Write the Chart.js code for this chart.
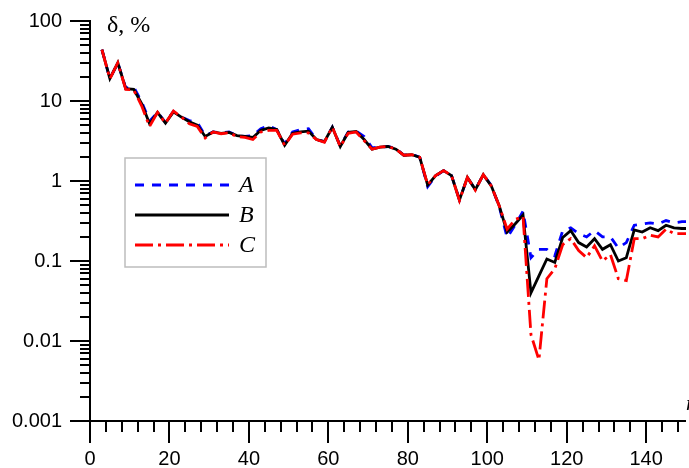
<!DOCTYPE html>
<html lang="en">
<head>
    <meta charset="UTF-8">
    <title>δ, %</title>
    <script src="https://cdn.jsdelivr.net/npm/chart.js"></script>
    <style>
        html, body { margin: 0; padding: 0; background: #fff; }
        canvas { display: block; }
    </style>
</head>
<body>
    <canvas id="deltaChart" width="689" height="468"></canvas>

    <script>
        // data
        const xValues = [3, 5, 7, 9, 11, 13, 15, 17, 19, 21,
            23, 25, 27, 29, 31, 33, 35, 37, 39, 41,
            43, 45, 47, 49, 51, 53, 55, 57, 59, 61,
            63, 65, 67, 69, 71, 73, 75, 77, 79, 81,
            83, 85, 87, 89, 91, 93, 95, 97, 99, 101,
            103, 105, 107, 109, 111, 113, 115, 117, 119, 121,
            123, 125, 127, 129, 131, 133, 135, 137, 139, 141,
            143, 145, 147, 149, 151];

        const seriesA = [44, 19, 30, 14.5, 15, 9.8, 5.6, 7.2, 5.4, 7.4,
            6.3, 5.7, 5.4, 3.7, 4.1, 4.0, 4.1, 3.7, 3.6, 3.7,
            4.5, 4.9, 4.4, 2.9, 4.1, 4.4, 4.5, 3.3, 3.1, 4.7,
            2.75, 4.1, 4.2, 3.6, 2.6, 2.65, 2.7, 2.55, 2.1, 2.15,
            1.98, 0.85, 1.15, 1.35, 1.17, 0.58, 1.1, 0.78, 1.2, 0.88,
            0.48, 0.197, 0.28, 0.42, 0.11, 0.14, 0.14, 0.116, 0.24, 0.26,
            0.22, 0.2, 0.24, 0.2, 0.2, 0.145, 0.17, 0.28, 0.29, 0.3,
            0.29, 0.32, 0.3, 0.31, 0.31];

        const seriesB = [44, 19, 30, 14.3, 14, 9.3, 5.2, 7.2, 5.3, 7.3,
            6.3, 5.5, 5.0, 3.6, 4.1, 3.95, 4.05, 3.7, 3.6, 3.5,
            4.3, 4.6, 4.4, 2.8, 3.95, 4.1, 4.2, 3.3, 3.1, 4.7,
            2.7, 4.06, 4.15, 3.3, 2.5, 2.65, 2.7, 2.5, 2.1, 2.13,
            1.98, 0.89, 1.17, 1.35, 1.17, 0.58, 1.11, 0.78, 1.2, 0.87,
            0.49, 0.23, 0.29, 0.376, 0.04, 0.065, 0.106, 0.096, 0.197, 0.24,
            0.17, 0.15, 0.19, 0.14, 0.16, 0.1, 0.11, 0.245, 0.23, 0.26,
            0.24, 0.28, 0.26, 0.255, 0.255];

        const seriesC = [44, 19, 30, 14, 13.8, 8.7, 4.8, 7.2, 5.3, 7.5,
            6.3, 5.2, 4.8, 3.45, 4.1, 3.9, 4.0, 3.6, 3.5, 3.3,
            4.1, 4.3, 4.3, 2.8, 3.85, 4.0, 4.0, 3.3, 3.05, 4.7,
            2.7, 3.95, 4.1, 3.2, 2.5, 2.65, 2.7, 2.5, 2.1, 2.13,
            1.98, 0.9, 1.17, 1.35, 1.17, 0.57, 1.11, 0.77, 1.2, 0.87,
            0.49, 0.25, 0.33, 0.36, 0.012, 0.0058, 0.06, 0.08, 0.16, 0.19,
            0.135, 0.11, 0.155, 0.1, 0.12, 0.06, 0.057, 0.19, 0.19, 0.21,
            0.2, 0.25, 0.22, 0.22, 0.22];

        const seriesNames = ['A', 'B', 'C'];
        const xTickLabels = [0, 20, 40, 60, 80, 100, 120, 140];
        const yTickLabels = [0.001, 0.01, 0.1, 1, 10, 100];

        const sansFont = '"Liberation Sans", Arial, sans-serif';
        const serifFont = '"Liberation Serif", "Times New Roman", serif';

        function toPoints(ys) {
            return xValues.map((x, i) => ({ x: x, y: ys[i] }));
        }

        // ticks: long on labels, short in between
        const axisTicks = {
            id: 'axisTicks',
            afterDraw(chart) {
                const { ctx, scales: { x, y } } = chart;
                ctx.save();
                ctx.strokeStyle = '#000';
                ctx.lineWidth = 2;
                ctx.beginPath();
                for (let v = 0; v <= 150; v += 4) {
                    const px = Math.round(x.getPixelForValue(v));
                    const len = v % 20 === 0 ? 22 : 11;
                    ctx.moveTo(px, y.bottom);
                    ctx.lineTo(px, y.bottom + len);
                }
                yTickLabels.forEach(dec => {
                    for (let m = 1; m <= 9; m++) {
                        const v = m * dec;
                        if (v > 100.0001) break;
                        const py = Math.round(y.getPixelForValue(v));
                        const len = m === 1 ? 20 : 10;
                        ctx.moveTo(x.left, py);
                        ctx.lineTo(x.left - len, py);
                    }
                });
                ctx.stroke();

                // axis titles
                ctx.fillStyle = '#000';
                ctx.font = '24px ' + serifFont;
                ctx.textAlign = 'left';
                ctx.textBaseline = 'alphabetic';
                ctx.fillText('δ, %', 107, 32);
                ctx.font = 'italic 22px ' + serifFont;
                ctx.fillText('n', 686, 410);
                ctx.restore();
            }
        };

        // legend box inside the plot
        const boxLegend = {
            id: 'boxLegend',
            afterDraw(chart) {
                const ctx = chart.ctx;
                ctx.save();
                ctx.fillStyle = '#fff';
                ctx.fillRect(125, 158, 141, 109);
                ctx.strokeStyle = '#bdbdbd';
                ctx.lineWidth = 1.5;
                ctx.strokeRect(125, 158, 141, 109);
                ctx.font = 'italic 24px ' + serifFont;
                ctx.textBaseline = 'middle';
                chart.data.datasets.forEach((ds, i) => {
                    const rowY = 185 + i * 30;
                    ctx.strokeStyle = ds.borderColor;
                    ctx.lineWidth = ds.borderWidth;
                    ctx.setLineDash(ds.borderDash || []);
                    ctx.beginPath();
                    ctx.moveTo(135, rowY);
                    ctx.lineTo(229, rowY);
                    ctx.stroke();
                    ctx.setLineDash([]);
                    ctx.fillStyle = '#000';
                    ctx.fillText(ds.label, 239, rowY + 1);
                });
                ctx.restore();
            }
        };

        const chartData = {
            datasets: [{
                label: seriesNames[0],
                data: toPoints(seriesA),
                borderColor: '#0000ff',
                borderWidth: 2.8,
                borderDash: [9, 8],
                order: 3
            }, {
                label: seriesNames[1],
                data: toPoints(seriesB),
                borderColor: '#000000',
                borderWidth: 2.8,
                order: 2
            }, {
                label: seriesNames[2],
                data: toPoints(seriesC),
                borderColor: '#ff0000',
                borderWidth: 2.8,
                borderDash: [18, 5, 3, 5],
                order: 1
            }]
        };

        const chartOptions = {
            responsive: false,
            animation: false,
            devicePixelRatio: 1,
            layout: { padding: { top: 0, right: 2, left: 0, bottom: 0 } },
            elements: {
                point: { radius: 0 },
                line: { tension: 0, fill: false }
            },
            plugins: {
                legend: { display: false },
                tooltip: { enabled: false }
            },
            scales: {
                x: {
                    type: 'linear',
                    min: 0,
                    max: 150,
                    grid: { display: false, drawTicks: false },
                    border: { display: true, color: '#000', width: 2 },
                    ticks: {
                        stepSize: 20,
                        includeBounds: false,
                        autoSkip: false,
                        maxRotation: 0,
                        padding: 26,
                        color: '#000',
                        font: { family: sansFont, size: 20 },
                        callback: v => xTickLabels.includes(v) ? String(v) : ''
                    },
                    afterFit(scale) { scale.height = 47; }
                },
                y: {
                    type: 'logarithmic',
                    min: 0.001,
                    max: 100,
                    grid: { display: false, drawTicks: false },
                    border: { display: true, color: '#000', width: 2 },
                    ticks: {
                        autoSkip: false,
                        padding: 28,
                        color: '#000',
                        font: { family: sansFont, size: 20 },
                        callback: v => {
                            const hit = yTickLabels.find(t => Math.abs(t - v) < t * 1e-6);
                            return hit !== undefined ? String(hit) : '';
                        }
                    },
                    afterFit(scale) {
                        scale.width = 90;
                        scale.paddingTop = 21;
                        scale.paddingBottom = 0;
                    }
                }
            }
        };

        const ctx = document.getElementById('deltaChart').getContext('2d');
        const deltaChart = new Chart(ctx, {
            type: 'line',
            data: chartData,
            options: chartOptions,
            plugins: [axisTicks, boxLegend]
        });
    </script>
</body>
</html>
